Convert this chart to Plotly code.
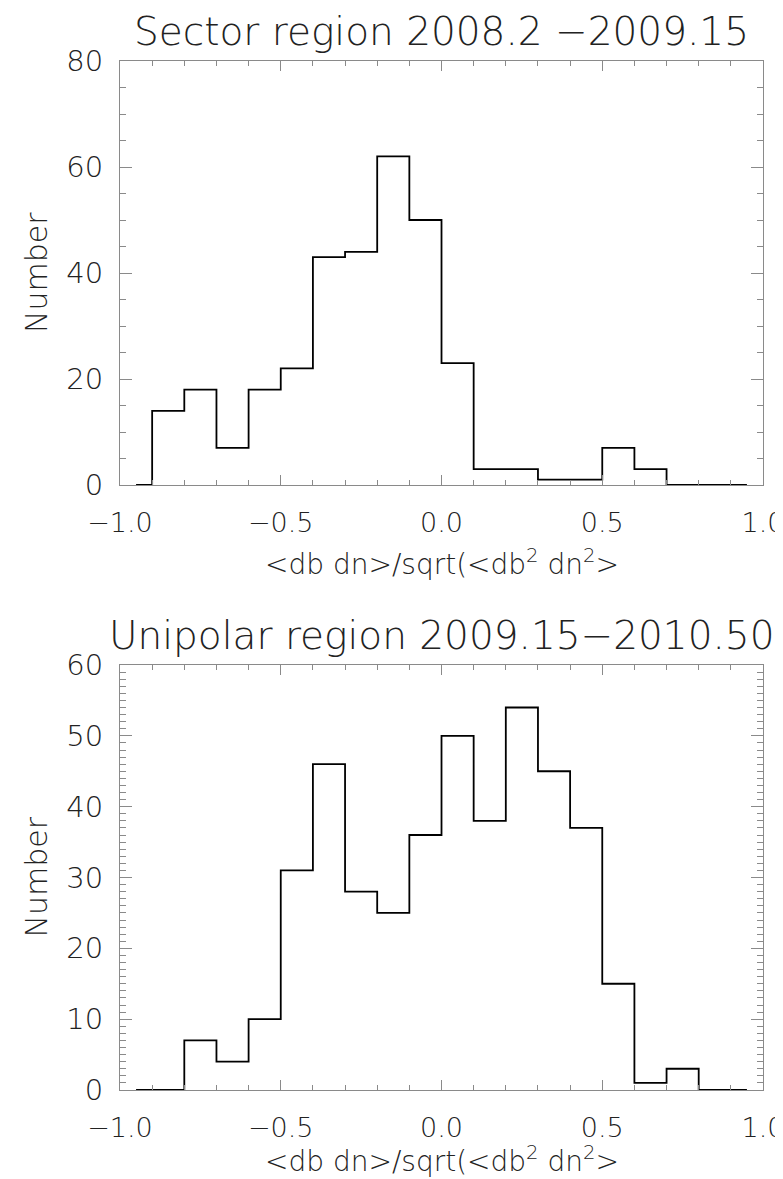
import plotly.graph_objects as go

# ---------------- data (bin centres, counts) ----------------
bin_centers = [-0.95, -0.85, -0.75, -0.65, -0.55, -0.45, -0.35, -0.25, -0.15, -0.05,
               0.05, 0.15, 0.25, 0.35, 0.45, 0.55, 0.65, 0.75, 0.85, 0.95]
sector_counts = [0, 14, 18, 7, 18, 22, 43, 44, 62, 50,
                 23, 3, 3, 1, 1, 7, 3, 0, 0, 0]
unipolar_counts = [0, 0, 7, 4, 10, 31, 46, 28, 25, 36,
                   50, 38, 54, 45, 37, 15, 1, 3, 0, 0]

titles = ["Sector region 2008.2 \u22122009.15", "Unipolar region 2009.15\u22122010.50"]
x_title = "&lt;db dn&gt;/sqrt(&lt;db<sup>2</sup> dn<sup>2</sup>&gt;"
y_title = "Number"
x_tickvals = [-1.0, -0.5, 0.0, 0.5, 1.0]
top_yticks = [0, 20, 40, 60, 80]
bot_yticks = [0, 10, 20, 30, 40, 50, 60]

# ---------------- layout geometry (pixels) ----------------
W, H = 783, 1179
FX0, FX1 = 112, 755
TOP_F = (53, 477)
BOT_F = (657, 1082)

def py(p):
    return 1 - p / H

FONT = "DejaVu Sans"
fcol = "#222222"
frame_col = "#8a8a8a"

fig = go.Figure()
fig.add_trace(go.Scatter(x=bin_centers, y=sector_counts, mode="lines",
                         line=dict(shape="hvh", color="black", width=1.8),
                         xaxis="x", yaxis="y", showlegend=False))
fig.add_trace(go.Scatter(x=bin_centers, y=unipolar_counts, mode="lines",
                         line=dict(shape="hvh", color="black", width=1.8),
                         xaxis="x2", yaxis="y2", showlegend=False))

def xax(anchor):
    return dict(domain=[FX0 / W, FX1 / W], range=[-1, 1], anchor=anchor,
                automargin=False,
                tickvals=x_tickvals, tickformat=".1f",
                ticks="inside", ticklen=10, tickcolor=frame_col, tickwidth=1,
                minor=dict(dtick=0.1, tick0=0, ticks="inside", ticklen=5,
                           tickcolor=frame_col, tickwidth=1),
                showline=True, linecolor=frame_col, linewidth=1, mirror="ticks",
                showgrid=False, zeroline=False,
                ticklabelstandoff=14,
                tickfont=dict(family=FONT, size=27, color=fcol, weight=300))

def yax(anchor, dom, rng, ticks, minor_dt):
    return dict(domain=[py(dom[1]), py(dom[0])], range=rng, anchor=anchor,
                automargin=False,
                tickvals=ticks, ticks="inside", ticklen=12, tickcolor=frame_col,
                tickwidth=1,
                minor=dict(dtick=minor_dt, tick0=0, ticks="inside", ticklen=6,
                           tickcolor=frame_col, tickwidth=1),
                showline=True, linecolor=frame_col, linewidth=1, mirror="ticks",
                showgrid=False, zeroline=False,
                ticklabelstandoff=10,
                tickfont=dict(family=FONT, size=29, color=fcol, weight=300))

fig.update_layout(
    template="none",
    width=W, height=H, margin=dict(l=0, r=0, t=0, b=0),
    paper_bgcolor="white", plot_bgcolor="white",
    xaxis=xax("y"), yaxis=yax("x", TOP_F, [0, 80], top_yticks, 5),
    xaxis2=xax("y2"), yaxis2=yax("x2", BOT_F, [0, 60], bot_yticks, 1),
)

ann = []
cx = (FX0 + FX1) / 2 / W
for frame, title, ty, xty in [(TOP_F, titles[0], 24, 555), (BOT_F, titles[1], 627, 1151)]:
    ann.append(dict(text=title, x=cx, y=py(ty), xref="paper", yref="paper",
                    xanchor="center", yanchor="middle", showarrow=False,
                    font=dict(family=FONT, size=39, color=fcol, weight=300)))
    ann.append(dict(text=x_title, x=cx, y=py(xty), xref="paper", yref="paper",
                    xanchor="center", yanchor="middle", showarrow=False,
                    font=dict(family=FONT, size=28, color=fcol, weight=300)))
    ann.append(dict(text=y_title, x=28 / W, y=py((frame[0] + frame[1]) / 2),
                    xref="paper", yref="paper", textangle=-90,
                    xanchor="center", yanchor="middle", showarrow=False,
                    font=dict(family=FONT, size=30, color=fcol, weight=300)))
fig.update_layout(annotations=ann)

fig.write_html("out.html")
